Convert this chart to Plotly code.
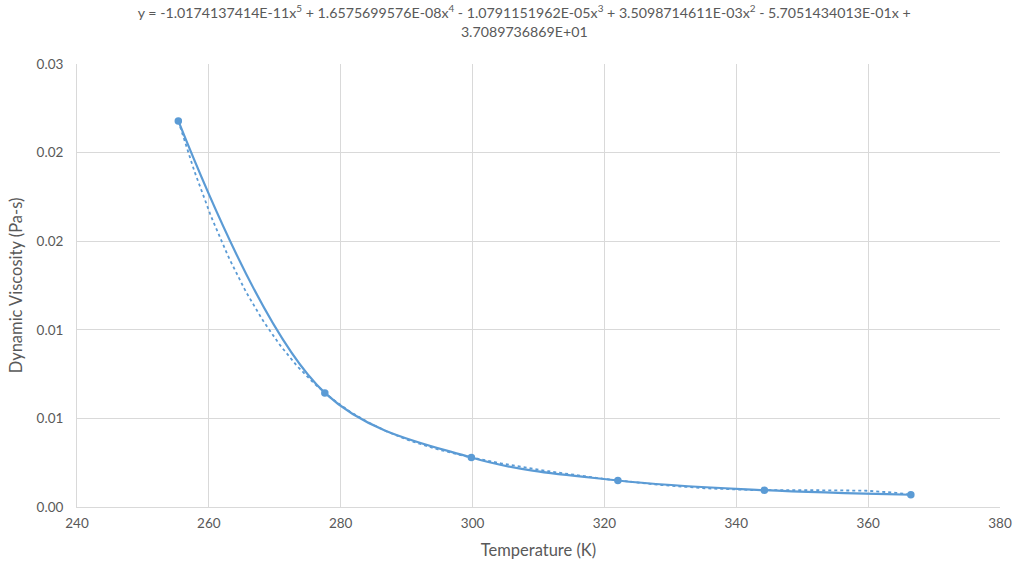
import numpy as np
import plotly.graph_objects as go

# Measured dynamic viscosity vs temperature
temperature_k = [255.37, 277.59, 299.82, 322.04, 344.26, 366.48]
viscosity_pa_s = [0.021788, 0.006440, 0.002790, 0.001494, 0.000949, 0.000690]

# 5th-order polynomial trendline coefficients (highest power first)
trend_coeffs = [-1.0174137414E-11, 1.6575699576E-08, -1.0791151962E-05,
                3.5098714611E-03, -5.7051434013E-01, 3.7089736869E+01]

x_ticks = [240, 260, 280, 300, 320, 340, 360, 380]
y_ticks = [0.0, 0.005, 0.010, 0.015, 0.020, 0.025]
y_tick_text = ["0.00", "0.01", "0.01", "0.02", "0.02", "0.03"]

blue = "#5B9BD5"
grey_text = "#595959"
grid = "#D9D9D9"
font_family = "Lato, 'Open Sans', sans-serif"

trend_x = np.linspace(temperature_k[0], temperature_k[-1], 300)
trend_y = np.polyval(trend_coeffs, trend_x)

fig = go.Figure()
fig.add_trace(go.Scatter(
    x=trend_x, y=trend_y, mode="lines",
    line=dict(color=blue, width=1.8, dash="dot"),
    hoverinfo="skip", showlegend=False,
))
fig.add_trace(go.Scatter(
    x=temperature_k, y=viscosity_pa_s, mode="lines+markers",
    line=dict(color=blue, width=2.2, shape="spline", smoothing=1.0),
    marker=dict(color=blue, size=7.5),
    showlegend=False,
))

title_text = ("y = -1.0174137414E-11x<sup>5</sup> + 1.6575699576E-08x<sup>4</sup> - "
              "1.0791151962E-05x<sup>3</sup> + 3.5098714611E-03x<sup>2</sup> - "
              "5.7051434013E-01x +<br>3.7089736869E+01")

fig.update_layout(
    width=1018, height=567,
    margin=dict(l=77, r=18, t=64, b=60),
    paper_bgcolor="white", plot_bgcolor="white",
    font=dict(family=font_family, size=13, color=grey_text),
    title=dict(text=title_text, x=0.515, xanchor="center",
               y=0.968, yanchor="top",
               font=dict(family=font_family, size=14.2, color=grey_text),
               ),
)
fig.update_xaxes(
    range=[240, 380], tickvals=x_ticks, showgrid=True, gridcolor=grid, gridwidth=1,
    showline=True, linecolor=grid, linewidth=1, zeroline=False, ticks="",
    automargin=False,
    tickfont=dict(size=13.5, color=grey_text), ticklabelstandoff=4,
    title=dict(text="Temperature (K)", font=dict(size=16.5, color=grey_text), standoff=14),
)
fig.update_yaxes(
    range=[0, 0.025], tickvals=y_ticks, ticktext=y_tick_text, showgrid=True,
    gridcolor=grid, gridwidth=1, showline=True, linecolor=grid, linewidth=1,
    zeroline=False, ticks="", automargin=False, tickfont=dict(size=13.5, color=grey_text),
    ticklabelstandoff=10,
    title=dict(text="Dynamic Viscosity (Pa-s)", font=dict(size=16.5, color=grey_text), standoff=9),
)

fig.write_html("out.html")
